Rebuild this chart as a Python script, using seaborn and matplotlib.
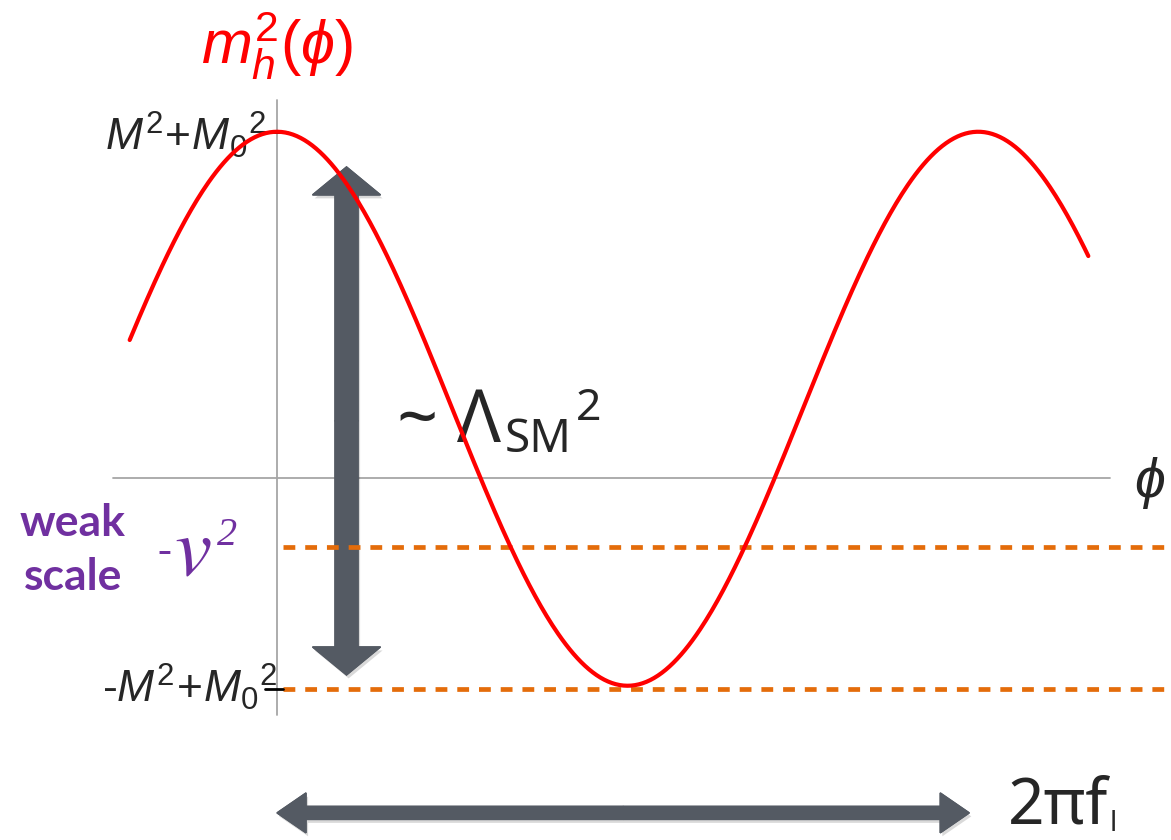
import numpy as np
import pandas as pd
import matplotlib.pyplot as plt
import matplotlib.patheffects as pe
from matplotlib.patches import FancyArrow
import seaborn as sns

sns.set_theme(style="white")
plt.rcParams['font.family'] = ['Liberation Sans', 'DejaVu Sans']
plt.rcParams['mathtext.fontset'] = 'custom'
plt.rcParams['mathtext.rm'] = 'Liberation Sans'
plt.rcParams['mathtext.it'] = 'Liberation Sans:italic'
plt.rcParams['mathtext.fallback'] = 'stixsans'

# parametros (unidades de M^2)
M_sq = 1.0          # amplitude M^2
M0_sq = 0.25        # deslocamento M_0^2
v_sq = 0.25         # escala fraca v^2
phi_inicio = -1.32  # fase no inicio da curva (rad)
phi_fim = 7.27      # fase no fim da curva (rad)

# curva m_h^2(phi) = M_0^2 + M^2 cos(phi)
phi = np.linspace(phi_inicio, phi_fim, 500)
df = pd.DataFrame({'phi': phi, 'mh2': M0_sq + M_sq * np.cos(phi)})

niveis = [-v_sq, -M_sq + M0_sq - 0.01]
periodo = 2 * np.pi

# conversao pixel -> dados, so para posicionar textos
sx, sy = 111.6, 277.0
def px(xp, yp):
    return (xp - 277) / sx, (478 - yp) / sy

fig = plt.figure(figsize=(11.71, 8.4), dpi=100)
ax = fig.add_axes([0, 0, 1, 1])
ax.set_xlim(-277 / sx, (1171 - 277) / sx)
ax.set_ylim((478 - 840) / sy, 478 / sy)
ax.axis('off')

# eixos
ax.plot([-1.47, 7.46], [0, 0], color='#a6a6a6', lw=1.3, zorder=1)
ax.plot([0, 0], [-0.856, 1.365], color='#a6a6a6', lw=1.3, zorder=1)

# setas cinzas com sombra
cinza = '#545a63'
sombra = [pe.withSimplePatchShadow(offset=(1.5, -2.5), shadow_rgbFace='black', alpha=0.15), pe.Normal()]
x_seta = 0.623
topo, base = M_sq + M0_sq - 0.127, -M_sq + M0_sq + 0.039
meio = (topo + base) / 2
for fim in [topo, base]:
    a = FancyArrow(x_seta, meio, 0, fim - meio, width=0.206, head_width=0.609,
                   head_length=0.101, length_includes_head=True, color=cinza, zorder=2)
    a.set_path_effects(sombra)
    ax.add_patch(a)

y_seta = -1.209
x0, x1 = 0.0, periodo - 0.08
xm = (x0 + x1) / 2
for fim in [x0, x1]:
    a = FancyArrow(xm, y_seta, fim - xm, 0, width=0.047, head_width=0.144,
                   head_length=0.26, length_includes_head=True, color=cinza, zorder=2)
    a.set_path_effects(sombra)
    ax.add_patch(a)

# linhas tracejadas laranjas
for nv in niveis:
    ax.plot([0.05, 9], [nv, nv], color='#e46c0a', lw=3.4, ls=(0, (2.5, 2.1)), zorder=3)

# tracinhos pretos
ax.plot([-0.12, 0.09], [M_sq + M0_sq] * 2, color='black', lw=2, zorder=3)
ax.plot([-0.11, 0.05], [niveis[1]] * 2, color='black', lw=2, zorder=3)

# curva
sns.lineplot(data=df, x='phi', y='mh2', color='#ff0000', lw=3, ax=ax, zorder=4)
ax.axis('off')

# textos
ax.text(*px(277, 46), r'$m_h^2(\phi)$', color='#ff0000', fontsize=44, ha='center', va='center')
ax.text(*px(266, 150), r'$M^2\!+\!{M_0}^2$', fontsize=32, ha='right', va='baseline')
ax.text(*px(278, 702), r'-$M^2\!+\!{M_0}^2$', fontsize=32, ha='right', va='baseline')
ax.text(*px(1150, 483), r'$\phi$', fontsize=40, ha='center', va='center')

roxo = '#7030a0'
ax.text(*px(73, 523), 'weak', color=roxo, fontsize=32, fontweight='bold',
        family=['Lato', 'DejaVu Sans'], ha='center', va='center')
ax.text(*px(73, 577), 'scale', color=roxo, fontsize=32, fontweight='bold',
        family=['Lato', 'DejaVu Sans'], ha='center', va='center')
ax.text(*px(171, 552), '-', color=roxo, fontsize=30, style='italic',
        family=['Liberation Serif'], ha='right', va='center')
ax.text(*px(174, 575), r'$v$', color=roxo, fontsize=60, math_fontfamily='stix',
        ha='left', va='baseline')
ax.text(*px(217, 545), '2', color=roxo, fontsize=29, style='italic',
        family=['Liberation Serif'], ha='left', va='baseline')

fam = ['Noto Sans', 'DejaVu Sans']
ax.text(*px(397, 442), '~ Λ', fontsize=52, family=fam, ha='left', va='baseline')
ax.text(*px(505, 452), 'SM', fontsize=33, family=fam, ha='left', va='baseline')
ax.text(*px(576, 420), '2', fontsize=32, family=fam, ha='left', va='baseline')

ax.text(*px(1008, 838), '2πf', fontsize=46, family=fam, ha='left', va='bottom')
ax.text(*px(1110, 838), 'l', fontsize=20, family=fam, ha='left', va='bottom')

fig.savefig('out.png', dpi=100)
